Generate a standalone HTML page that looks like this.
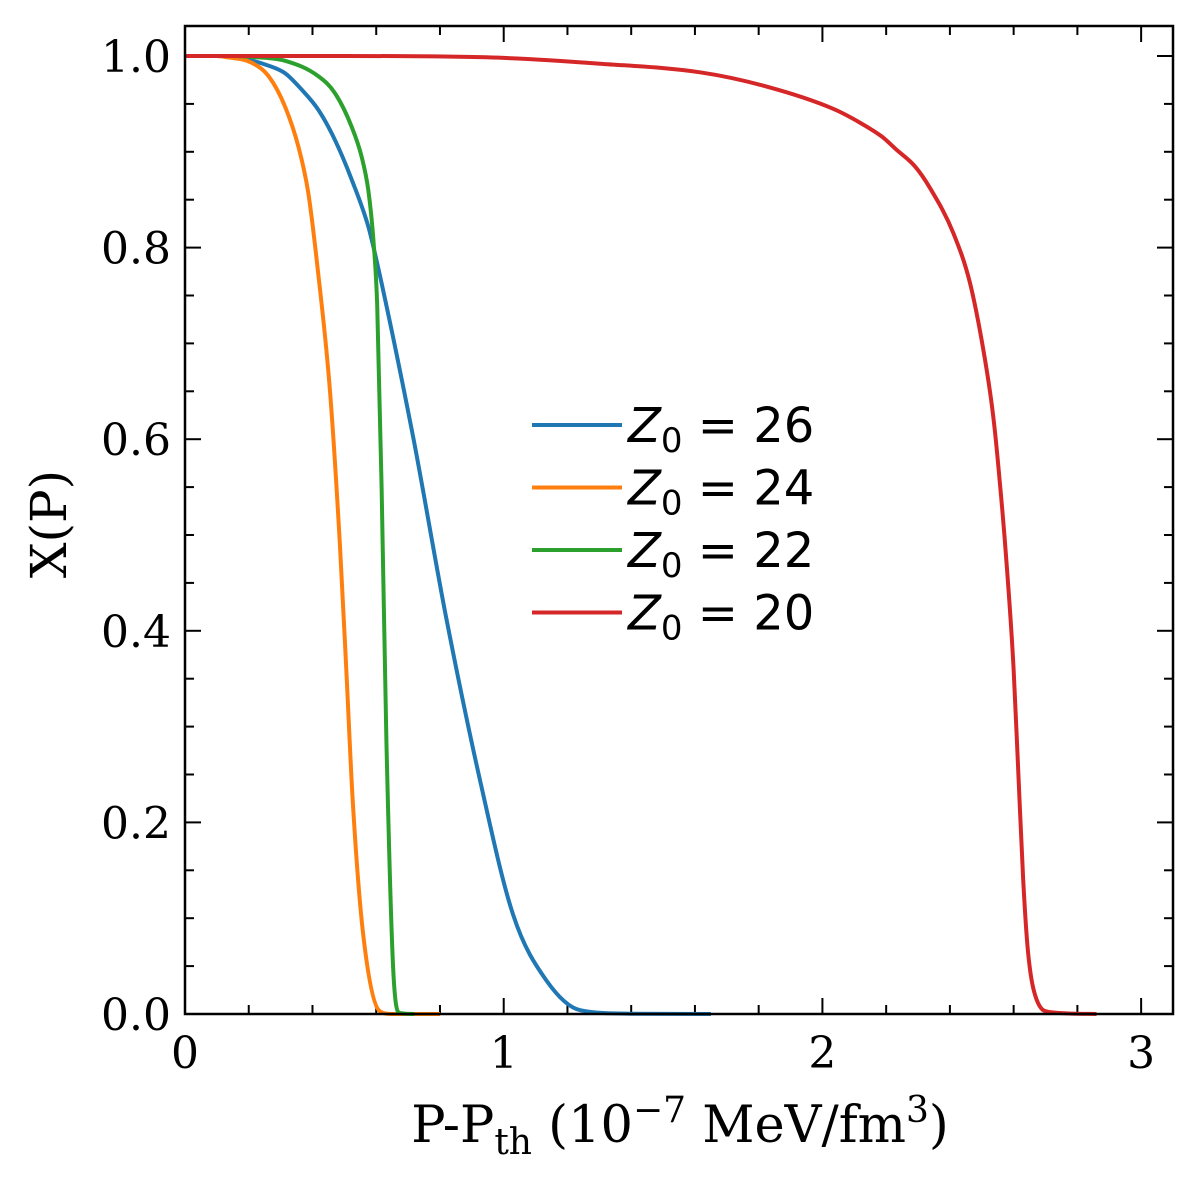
<!DOCTYPE html>
<html><head><meta charset="utf-8"><style>
body{margin:0;background:#fff}
svg text{font-family:"DejaVu Serif","Liberation Serif",serif}
</style></head><body>
<svg id="chart" width="1200" height="1181" viewBox="0 0 1200 1181" xmlns="http://www.w3.org/2000/svg">
<g id="axes"></g>
<g id="plot"></g>
<text transform="translate(66,524) rotate(-90)" text-anchor="middle" font-size="50">X(P)</text>
<text x="680" y="1142" text-anchor="middle" font-size="51">P-P<tspan font-size="36" dy="12">th</tspan><tspan dy="-12"> (10</tspan><tspan font-size="36" dy="-20">−7</tspan><tspan dy="20"> MeV/fm</tspan><tspan font-size="36" dy="-20">3</tspan><tspan dy="20">)</tspan></text>
<g id="legend"></g>
</svg>
<script>
const seriesNames=["26","24","22","20"];
const seriesColors=["#1f77b4","#ff7f0e","#2ca02c","#d62728"];
const blueX=[0,0.1,0.157,0.262,0.314,0.366,0.418,0.471,0.523,0.575,0.612,0.716,0.82,0.925,1.03,1.134,1.24,1.4,1.65];
const blueY=[1,1,0.999,0.99,0.982,0.965,0.944,0.912,0.871,0.822,0.77,0.602,0.413,0.245,0.103,0.035,0.004,0.0003,0];
const orangeX=[0,0.1,0.126,0.209,0.262,0.314,0.356,0.387,0.418,0.455,0.486,0.507,0.527,0.559,0.611,0.65,0.8];
const orangeY=[1,1,0.999,0.993,0.979,0.947,0.905,0.857,0.773,0.65,0.49,0.353,0.218,0.083,0.003,0,0];
const greenX=[0,0.15,0.209,0.314,0.418,0.471,0.523,0.554,0.575,0.591,0.603,0.617,0.632,0.653,0.674,0.72];
const greenY=[1,1,0.999,0.995,0.979,0.961,0.926,0.895,0.86,0.808,0.74,0.55,0.285,0.049,0.001,0];
const redX=[0,0.5,1.0,1.302,1.616,1.826,2.033,2.12,2.19,2.233,2.29,2.338,2.411,2.463,2.505,2.536,2.557,2.578,2.60,2.615,2.63,2.645,2.672,2.714,2.86];
const redY=[1,1,0.998,0.992,0.983,0.968,0.945,0.93,0.915,0.902,0.885,0.862,0.815,0.763,0.693,0.624,0.554,0.47,0.36,0.25,0.14,0.065,0.015,0.002,0];
const xTicks=[0,1,2,3];
const yTicks=[0,0.2,0.4,0.6,0.8,1.0];
const yTickLabels=["0.0","0.2","0.4","0.6","0.8","1.0"];

const L=185,R=1173,T=26,B=1014,xMax=3.1;
const sx=v=>L+v*(R-L)/xMax;
const sy=v=>B-v*958;
const NS="http://www.w3.org/2000/svg";
function mk(tag,attrs,parent){const e=document.createElementNS(NS,tag);for(const k in attrs)e.setAttribute(k,attrs[k]);parent.appendChild(e);return e;}
function monotone(xs,ys){
  const n=xs.length,d=[],m=[];
  for(let i=0;i<n-1;i++)d.push((ys[i+1]-ys[i])/(xs[i+1]-xs[i]));
  m[0]=d[0];m[n-1]=d[n-2];
  for(let i=1;i<n-1;i++){m[i]=(d[i-1]*d[i]<=0)?0:(d[i-1]+d[i])/2;}
  for(let i=0;i<n-1;i++){
    if(d[i]===0){m[i]=0;m[i+1]=0;continue;}
    const a=m[i]/d[i],b=m[i+1]/d[i],s=a*a+b*b;
    if(s>9){const t=3/Math.sqrt(s);m[i]=t*a*d[i];m[i+1]=t*b*d[i];}
  }
  let path='M'+sx(xs[0]).toFixed(1)+','+sy(ys[0]).toFixed(1);
  for(let i=0;i<n-1;i++){
    const h=xs[i+1]-xs[i];
    path+='C'+sx(xs[i]+h/3).toFixed(1)+','+sy(ys[i]+m[i]*h/3).toFixed(1)+' '+sx(xs[i+1]-h/3).toFixed(1)+','+sy(ys[i+1]-m[i+1]*h/3).toFixed(1)+' '+sx(xs[i+1]).toFixed(1)+','+sy(ys[i+1]).toFixed(1);
  }
  return path;
}
const plot=document.getElementById('plot'),axes=document.getElementById('axes'),leg=document.getElementById('legend');
const allX=[blueX,orangeX,greenX,redX],allY=[blueY,orangeY,greenY,redY];
for(let s=0;s<4;s++){
  const p=mk('path',{d:monotone(allX[s],allY[s]),fill:'none',stroke:seriesColors[s],'stroke-width':4,'stroke-linejoin':'round'},plot);
  
  
}
for(let i=0;i<=15;i++){
  const v=i*0.2,X=sx(v),major=i%5==0,len=major?16:9;
  mk('line',{x1:X,y1:B,x2:X,y2:B-len,stroke:'#000','stroke-width':2},axes);
  mk('line',{x1:X,y1:T,x2:X,y2:T+len,stroke:'#000','stroke-width':2},axes);
}
xTicks.forEach(v=>{const t=mk('text',{x:sx(v),y:B+54,'text-anchor':'middle','font-size':44},axes);t.textContent=v;

});
for(let i=0;i<=20;i++){
  const v=i/20,Y=sy(v),len=i%4==0?16:9;
  mk('line',{x1:L,y1:Y,x2:L+len,y2:Y,stroke:'#000','stroke-width':2},axes);
  mk('line',{x1:R,y1:Y,x2:R-len,y2:Y,stroke:'#000','stroke-width':2},axes);
}
yTicks.forEach((v,i)=>{const t=mk('text',{x:L-14,y:sy(v)+16,'text-anchor':'end','font-size':44},axes);t.textContent=yTickLabels[i];

});
const frame=mk('rect',{x:L,y:T,width:R-L,height:B-T,fill:'none',stroke:'#000','stroke-width':2.5},document.getElementById('chart'));


for(let s=0;s<4;s++){
  const Y=425+s*62.5;
  const g=mk('g',{},leg);
  
  
  mk('line',{x1:532,y1:Y,x2:622,y2:Y,stroke:seriesColors[s],'stroke-width':4},g);
  const t=mk('text',{x:628,y:Y+17,'font-size':48,style:'font-family:"DejaVu Sans","Liberation Sans",sans-serif'},g);
  t.innerHTML='<tspan font-style="italic">Z</tspan><tspan font-size="34" dy="10">0</tspan><tspan dy="-10"> = '+seriesNames[s]+'</tspan>';
}
</script>
</body></html>
